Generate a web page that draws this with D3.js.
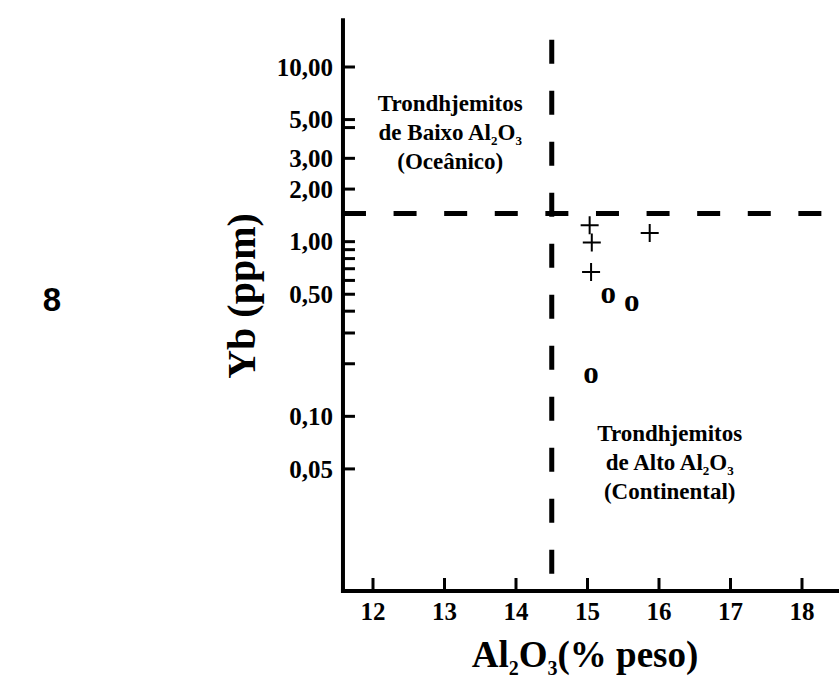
<!DOCTYPE html>
<html>
<head>
<meta charset="utf-8">
<script src="https://cdn.jsdelivr.net/npm/d3@7"></script>
<style>
  body { margin: 0; background: #fff; }
  text { font-family: "Liberation Serif", "Times New Roman", serif; font-weight: bold; fill: #000; }
</style>
</head>
<body>
<svg id="chart" width="839" height="682"></svg>
<script>
// tick values and labels
var xTicks = [12, 13, 14, 15, 16, 17, 18];
var yTicks = [10, 5, 3, 2, 1, 0.5, 0.1, 0.05];
var yTickLabels = ["10,00", "5,00", "3,00", "2,00", "1,00", "0,50", "0,10", "0,05"];
var yMinorTicks = [4.5, 0.9, 0.8, 0.7, 0.6, 0.4, 0.3, 0.2];

// samples: "+" and "o" symbols
var plusAl = [15.03, 15.06, 15.87, 15.05];
var plusYb = [1.24, 0.99, 1.12, 0.67];
var circAl = [15.29, 15.62, 15.05];
var circYb = [0.49, 0.44, 0.17];

// field boundaries
var alSplit = 14.5;
var ybSplit = 1.45;

var svg = d3.select("#chart");

var x = d3.scaleLinear().domain([12, 18]).range([373, 802]);
var y = d3.scaleLog().domain([0.01, 10]).range([591, 67]);

var xLeft = 11.58, xRight = 18.55;
var yBottom = 0.01, yTop = 19;

// writes "Al2O3" style formula, subscripts lowered
function formula(sel, prefix, fs) {
	var shift = Math.round(fs * 0.22);
	sel.append("tspan").text(prefix + "Al");
	sel.append("tspan").attr("font-size", Math.round(fs * 0.55) + "px").attr("dy", shift).text("2");
	sel.append("tspan").attr("dy", -shift).text("O");
	sel.append("tspan").attr("font-size", Math.round(fs * 0.55) + "px").attr("dy", shift).text("3");
}

// dashed boundary lines
svg.append("line")
	.attr("x1", x(alSplit)).attr("x2", x(alSplit))
	.attr("y1", y(14.3)).attr("y2", y(0.0124))
	.attr("stroke", "#000").attr("stroke-width", 5)
	.attr("stroke-dasharray", "24,27");

svg.append("line")
	.attr("x1", x(xLeft)).attr("x2", x(xRight))
	.attr("y1", y(ybSplit)).attr("y2", y(ybSplit))
	.attr("stroke", "#000").attr("stroke-width", 5)
	.attr("stroke-dasharray", "23,27.6");

// axes
svg.append("line")
	.attr("x1", x(xLeft)).attr("x2", x(xLeft))
	.attr("y1", y(yTop)).attr("y2", y(yBottom) + 2)
	.attr("stroke", "#000").attr("stroke-width", 4);

svg.append("line")
	.attr("x1", x(xLeft) - 2).attr("x2", x(xRight))
	.attr("y1", y(yBottom)).attr("y2", y(yBottom))
	.attr("stroke", "#000").attr("stroke-width", 4);

// y ticks
svg.selectAll(".ytick")
	.data(yTicks.concat(yMinorTicks))
	.enter().append("line")
	.attr("x1", x(xLeft)).attr("x2", x(xLeft) + 12)
	.attr("y1", function(d) { return y(d); })
	.attr("y2", function(d) { return y(d); })
	.attr("stroke", "#000").attr("stroke-width", 3);

svg.selectAll(".ylab")
	.data(yTicks)
	.enter().append("text")
	.attr("x", x(xLeft) - 10)
	.attr("y", function(d) { return y(d); })
	.attr("dy", "0.35em")
	.attr("text-anchor", "end")
	.attr("font-size", "25px")
	.text(function(d, i) { return yTickLabels[i]; });

// x ticks
svg.selectAll(".xtick")
	.data(xTicks)
	.enter().append("line")
	.attr("x1", function(d) { return x(d); })
	.attr("x2", function(d) { return x(d); })
	.attr("y1", y(yBottom))
	.attr("y2", y(yBottom) - 13)
	.attr("stroke", "#000").attr("stroke-width", 3);

svg.selectAll(".xlab")
	.data(xTicks)
	.enter().append("text")
	.attr("x", function(d) { return x(d); })
	.attr("y", y(yBottom) + 29)
	.attr("text-anchor", "middle")
	.attr("font-size", "25px")
	.text(function(d) { return d; });

// axis titles
var xt = svg.append("text")
	.attr("x", 585).attr("y", 667)
	.attr("text-anchor", "middle")
	.attr("font-size", "37px");
formula(xt, "", 37);
xt.append("tspan").attr("dy", -8).text("(% peso)");

svg.append("text")
	.attr("transform", "translate(255,296) rotate(-90)")
	.attr("text-anchor", "middle")
	.attr("font-size", "40px")
	.text("Yb (ppm)");

svg.append("text")
	.attr("x", 52).attr("y", 311)
	.attr("text-anchor", "middle")
	.attr("font-size", "33px")
	.style("font-family", "'Liberation Sans', Arial, sans-serif")
	.text("8");

// field labels
function fieldLabel(cx, cy, l2, l3) {
	var g = svg.append("g").attr("transform", "translate(" + x(cx) + "," + y(cy) + ")");
	g.append("text").attr("text-anchor", "middle").attr("font-size", "23px")
		.attr("y", 0).text("Trondhjemitos");
	var t = g.append("text").attr("text-anchor", "middle").attr("font-size", "23px")
		.attr("y", 29);
	formula(t, l2 + " ", 23);
	g.append("text").attr("text-anchor", "middle").attr("font-size", "23px")
		.attr("y", 58).text(l3);
}
fieldLabel(13.08, 5.6, "de Baixo", "(Oceânico)");
fieldLabel(16.15, 0.072, "de Alto", "(Continental)");

// "+" samples
var plusPts = plusAl.map(function(d, i) { return [d, plusYb[i]]; });
svg.selectAll(".plus")
	.data(plusPts)
	.enter().append("path")
	.attr("d", function(d) {
		var px = x(d[0]), py = y(d[1]);
		return "M" + (px - 9) + "," + py + "H" + (px + 9) + "M" + px + "," + (py - 9) + "V" + (py + 9);
	})
	.attr("stroke", "#000").attr("stroke-width", 2).attr("fill", "none");

// "o" samples
var circPts = circAl.map(function(d, i) { return [d, circYb[i]]; });
svg.selectAll(".circ")
	.data(circPts)
	.enter().append("text")
	.attr("x", function(d) { return x(d[0]); })
	.attr("y", function(d) { return y(d[1]); })
	.attr("dy", "0.23em")
	.attr("text-anchor", "middle")
	.attr("font-size", "31px")
	.text("o");
</script>
</body>
</html>
